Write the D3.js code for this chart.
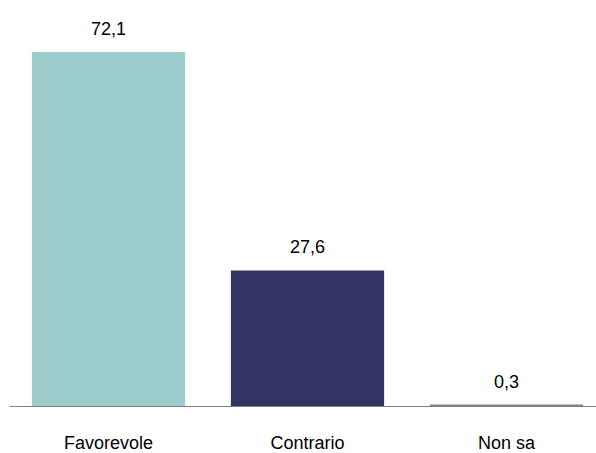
<!DOCTYPE html>
<html>
<head>
<meta charset="utf-8">
<script src="https://cdn.jsdelivr.net/npm/d3@7/dist/d3.min.js"></script>
<style>
  html, body { margin: 0; padding: 0; background: #ffffff; }
  svg { display: block; }
  .lbl { font-family: "Liberation Sans", Arial, sans-serif; font-size: 18px; fill: #000; }
</style>
</head>
<body>
<svg id="chart" width="596" height="453"></svg>
<script>
// Risposte (%)
const categories = ["Favorevole", "Contrario", "Non sa"];
const values = [72.1, 27.6, 0.3];
const valueLabels = ["72,1", "27,6", "0,3"];
const colors = ["#9ccccc", "#343464", "#808080"];

const svg = d3.select("#chart");
const baseY = 406;

const x = d3.scaleBand()
  .domain(categories)
  .range([9, 606])
  .paddingInner(0.23)
  .paddingOuter(0.115);

const y = d3.scaleLinear()
  .domain([0, 80])
  .range([baseY, 13.2]);

// bars
svg.append("g")
  .selectAll("rect")
  .data(values)
  .join("rect")
  .attr("x", (d, i) => x(categories[i]))
  .attr("width", x.bandwidth())
  .attr("y", d => y(d))
  .attr("height", d => baseY - y(d))
  .attr("fill", (d, i) => colors[i]);

// value labels
svg.append("g")
  .selectAll("text")
  .data(values)
  .join("text")
  .attr("class", "lbl")
  .attr("text-anchor", "middle")
  .attr("x", (d, i) => x(categories[i]) + x.bandwidth() / 2)
  .attr("y", d => y(d) - 17)
  .text((d, i) => valueLabels[i]);

// category axis
const axis = svg.append("g")
  .attr("transform", `translate(0,${baseY})`)
  .call(d3.axisBottom(x).tickSize(0).tickSizeOuter(0));
axis.attr("font-family", null).attr("font-size", null);
axis.select(".domain").attr("stroke", "#808080").attr("stroke-width", 1.2);
axis.selectAll(".tick text")
  .attr("class", "lbl")
  .attr("dy", null)
  .attr("y", 43)
  .attr("fill", null);
</script>
</body>
</html>
